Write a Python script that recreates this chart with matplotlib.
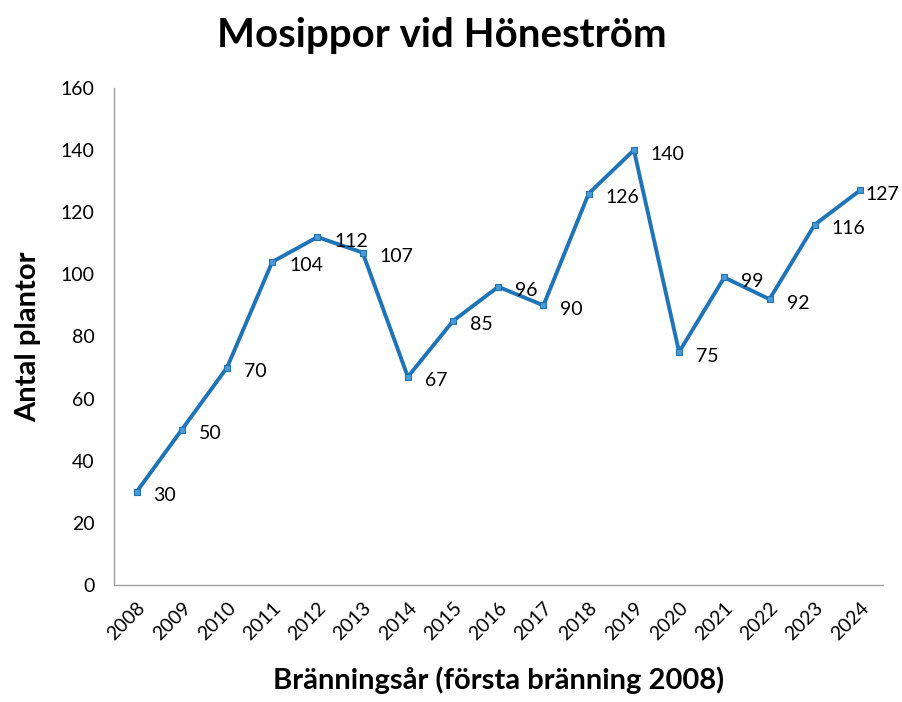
import matplotlib.pyplot as plt

plt.rcParams['font.family'] = ['Lato', 'DejaVu Sans']

years = ['2008', '2009', '2010', '2011', '2012', '2013', '2014', '2015', '2016',
         '2017', '2018', '2019', '2020', '2021', '2022', '2023', '2024']
plantor = [30, 50, 70, 104, 112, 107, 67, 85, 96, 90, 126, 140, 75, 99, 92, 116, 127]

fig = plt.figure(figsize=(9.02, 7.02), dpi=100)
ax = fig.add_axes([0.1264, 0.1667, 0.852, 0.708])

x = list(range(len(years)))
ax.plot(x, plantor, color='#1f73b7', lw=2.8, marker='s', markersize=4,
        markerfacecolor='#4a9ad6', markeredgecolor='#1f73b7', markeredgewidth=0.8)
for xi, v in zip(x, plantor):
    dx = 17 if xi < len(x) - 1 else 6
    ax.annotate(str(v), (xi, v), xytext=(dx, -4), textcoords='offset pixels',
                ha='left', va='center', fontsize=14)

ax.set_xlim(-0.5, len(years) - 0.5)
ax.set_ylim(0, 160)
ax.set_yticks(range(0, 161, 20))
ax.set_xticks(x)
ax.set_xticklabels(years, rotation=45, ha='right', rotation_mode='anchor')
ax.tick_params(axis='both', length=0, labelsize=14)
ax.tick_params(axis='y', pad=14)
ax.tick_params(axis='x', pad=10)
for s in ['top', 'right']:
    ax.spines[s].set_visible(False)
for s in ['left', 'bottom']:
    ax.spines[s].set_color('#a0a0a0')
    ax.spines[s].set_linewidth(1)

ax.set_ylabel('Antal plantor', fontsize=21, fontweight='bold', labelpad=14)
ax.set_xlabel('Bränningsår (första bränning 2008)', fontsize=21, fontweight='bold', labelpad=17)
fig.text(0.49, 0.95, 'Mosippor vid Höneström', ha='center', va='center',
         fontsize=29, fontweight='bold')

plt.savefig('out.png', dpi=100)
